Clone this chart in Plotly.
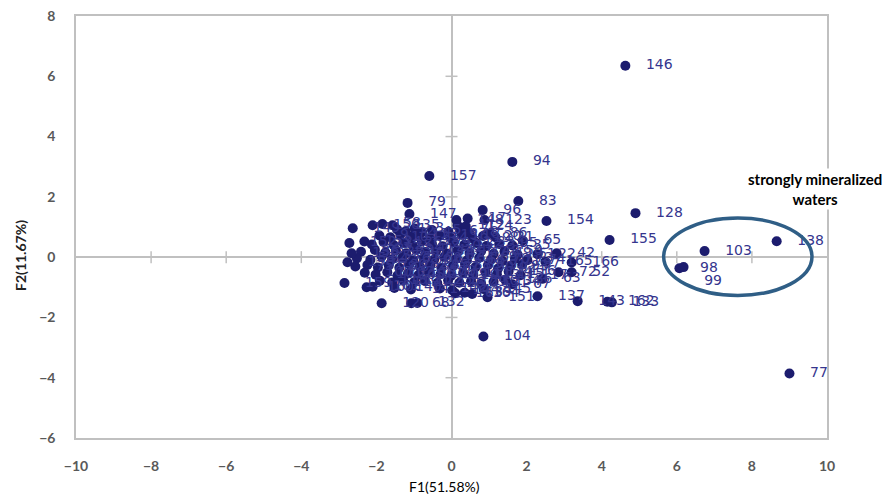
import plotly.graph_objects as go

# ---- outlying samples (F1, F2, sample number) ----
out_f1 = [4.63, 1.62, -0.59, 1.78, 4.90, 2.53, 4.21, 8.66, 6.74, 6.07, 6.18, 9.00, 0.85]
out_f2 = [6.35, 3.16, 2.69, 1.86, 1.46, 1.20, 0.57, 0.53, 0.20, -0.37, -0.33, -3.86, -2.63]
out_id = [146, 94, 157, 83, 128, 154, 155, 138, 103, 98, 99, 77, 104]

# ---- fringe of the main cloud ----
fr_f1 = [-1.17, -1.12, 0.83, 0.88, 0.43, 0.13, 0.16, 0.38, 1.00, -2.63, -2.10, -1.84, -1.57,
         -2.72, -2.32, -2.66, -2.77, -2.85, -2.26, -2.10, -1.86, -1.07, -0.91, 0.96, 2.29,
         3.36, 4.15, 4.27, 2.29, 2.80, 3.20, 3.20, 2.85, 2.42, 1.62, 0.10, 0.35, 0.55, 1.90, 2.50]
fr_f2 = [1.80, 1.43, 1.56, 1.23, 1.28, 1.23, 1.06, 1.02, 0.78, 0.96, 1.06, 1.10, 1.06,
         0.47, 0.52, 0.13, -0.17, -0.86, -1.00, -0.98, -1.53, -1.53, -1.52, -1.33, -1.30,
         -1.46, -1.48, -1.50, 0.10, 0.13, -0.18, -0.50, -0.50, -0.72, -0.90, -1.20, -1.18, -1.22, 0.55, -0.15]
fr_id = [79, 147, 96, 123, 17, 148, 112, 124, 86, 149, 150, 58, 135,
         152, 153, 156, 158, 159, 160, 161, 120, 68, 132, 151, 137,
         143, 162, 133, 22, 42, 166, 52, 72, 63, 67, 163, 139, 164, 65, 165]

# ---- dense core of the cloud ----
core_f1 = [-1.45, -1.22, -0.98, -0.78, -0.52, -0.08, 0.22, 0.47,
           -1.92, -1.63, -1.36, -1.08, -0.86, -0.58, -0.31, -0.04, 0.27, 0.56, 0.84, 1.17,
           -2.12, -1.81, -1.54, -1.28, -1.03, -0.79, -0.52, -0.24, 0.06, 0.34, 0.66, 0.93, 1.27, 1.62,
           -2.41, -2.04, -1.76, -1.48, -1.21, -0.94, -0.69, -0.41, -0.13, 0.16, 0.48, 0.79, 1.12, 1.41, 1.76,
           -2.52, -2.16, -1.86, -1.58, -1.31, -1.02, -0.74, -0.46, -0.19, 0.12, 0.41, 0.74, 1.06, 1.36, 1.69, 2.02,
           -2.56, -2.24, -1.96, -1.67, -1.39, -1.12, -0.84, -0.56, -0.27, 0.04, 0.36, 0.64, 0.97, 1.24, 1.57, 1.88,
           -2.31, -2.02, -1.71, -1.44, -1.16, -0.88, -0.61, -0.29, -0.01, 0.31, 0.58, 0.91, 1.21, 1.52, 1.84,
           -1.91, -1.58, -1.29, -0.99, -0.71, -0.38, -0.09, 0.21, 0.52, 0.79, 1.12, 1.43,
           -1.52, -1.08, -0.31, 0.02, 0.86]
core_f2 = [0.92, 0.86, 0.95, 0.83, 0.90, 0.84, 0.93, 0.81,
           0.72, 0.66, 0.75, 0.68, 0.74, 0.63, 0.71, 0.67, 0.74, 0.62, 0.70, 0.66,
           0.42, 0.50, 0.40, 0.47, 0.38, 0.52, 0.44, 0.36, 0.49, 0.41, 0.47, 0.37, 0.44, 0.39,
           0.18, 0.24, 0.15, 0.22, 0.13, 0.25, 0.17, 0.21, 0.12, 0.23, 0.14, 0.20, 0.11, 0.19, 0.08,
           -0.04, -0.09, 0.02, -0.07, -0.02, -0.10, -0.03, -0.08, 0.01, -0.06, -0.11, -0.02, -0.08, -0.13, -0.05, -0.10,
           -0.31, -0.26, -0.34, -0.28, -0.35, -0.24, -0.32, -0.27, -0.36, -0.29, -0.23, -0.33, -0.27, -0.38, -0.30, -0.25,
           -0.52, -0.58, -0.50, -0.61, -0.54, -0.59, -0.49, -0.57, -0.62, -0.53, -0.60, -0.51, -0.57, -0.48, -0.60,
           -0.78, -0.84, -0.76, -0.83, -0.79, -0.86, -0.77, -0.85, -0.80, -0.88, -0.82, -0.75,
           -1.02, -1.07, -1.04, -1.10, -1.06]
core_id = [1, 2, 3, 4, 5, 6, 7, 8,
           9, 10, 11, 12, 13, 14, 15, 16, 18, 19, 20, 21,
           23, 24, 25, 26, 27, 28, 29, 30, 31, 32, 33, 34, 95, 35,
           36, 37, 38, 39, 40, 41, 43, 44, 45, 46, 47, 48, 49, 50, 51,
           53, 54, 55, 56, 57, 59, 60, 61, 62, 64, 66, 69, 70, 71, 73, 74,
           75, 76, 78, 80, 81, 82, 84, 85, 87, 88, 89, 90, 91, 92, 93, 97,
           100, 101, 102, 105, 106, 107, 108, 109, 110, 111, 113, 114, 115, 116, 117,
           118, 119, 121, 122, 125, 126, 127, 129, 130, 131, 134, 136,
           140, 141, 142, 144, 145]

x_ticks = [-10, -8, -6, -4, -2, 0, 2, 4, 6, 8, 10]
y_ticks = [-6, -4, -2, 0, 2, 4, 6, 8]
x_title = "F1(51.58%)"
y_title = "F2(11.67%)"
note = "strongly mineralized<br>waters"

f1 = core_f1 + fr_f1 + out_f1
f2 = core_f2 + fr_f2 + out_f2
ids = core_id + fr_id + out_id
# label placement: the label of sample 99 sits below its neighbour 98
label_pos = ["bottom right" if i == 99 else "middle right" for i in ids]

NAVY = "#1c1c6e"
GRID = "#c0c0c0"

fig = go.Figure()
fig.add_trace(go.Scatter(
    x=f1, y=f2, text=[str(i) for i in ids], mode="markers+text",
    texttemplate="\u00a0\u00a0\u00a0%{text}", textposition=label_pos,
    textfont=dict(family="DejaVu Sans", size=14, color="#35358e"),
    marker=dict(size=10, color=NAVY), showlegend=False, hoverinfo="x+y+text",
    cliponaxis=False))

shapes = []
for v in y_ticks:
    if v in (0, -6, 8):
        continue
    shapes.append(dict(type="line", xref="x", yref="y", xsizemode="pixel", xanchor=0,
                       x0=-6, x1=6, y0=v, y1=v, line=dict(color=GRID, width=1.5), layer="below"))
for v in x_ticks:
    if v in (0, -10, 10):
        continue
    shapes.append(dict(type="line", xref="x", yref="y", ysizemode="pixel", yanchor=0,
                       y0=-6, y1=6, x0=v, x1=v, line=dict(color=GRID, width=1.5), layer="below"))
shapes.append(dict(type="circle", xref="x", yref="y", x0=5.65, x1=9.6, y0=-1.27, y1=1.3,
                   line=dict(color="#2f5e86", width=3.5)))

annotations = [
    dict(x=9.69, y=2.26, xref="x", yref="y", text=note, showarrow=False, xanchor="center",
         font=dict(family="Lato", size=15, color="black", weight="bold"),
         bgcolor="white", align="center"),
    dict(x=0.491, y=-0.116, xref="paper", yref="paper", text=x_title, showarrow=False,
         xanchor="center", yanchor="middle",
         font=dict(family="Lato", size=14, color="black")),
    dict(x=-0.0746, y=0.07, xref="paper", yref="y", text=y_title, showarrow=False,
         xanchor="center", yanchor="middle", textangle=-90,
         font=dict(family="Lato", size=14, color="#222222", weight="bold")),
]

fig.update_layout(
    width=882, height=488, margin=dict(l=68, r=63, t=8, b=58),
    paper_bgcolor="white", plot_bgcolor="white",
    shapes=shapes, annotations=annotations,
    xaxis=dict(range=[-10, 10], tickvals=x_ticks, showgrid=False, showline=True, mirror=True,
               linecolor=GRID, linewidth=1.5, zeroline=True, zerolinecolor=GRID, zerolinewidth=1.5,
               ticks="", ticklabelstandoff=14, automargin=False, ticklabeloverflow="allow",
               tickfont=dict(family="Lato", size=14, color="#595959", weight="bold")),
    yaxis=dict(range=[-6, 8], tickvals=y_ticks, showgrid=False, showline=True, mirror=True,
               linecolor=GRID, linewidth=1.5, zeroline=True, zerolinecolor=GRID, zerolinewidth=1.5,
               ticks="", ticklabelstandoff=16, automargin=False, ticklabeloverflow="allow",
               tickfont=dict(family="Lato", size=14, color="#595959", weight="bold")),
)

fig.write_html("out.html")
